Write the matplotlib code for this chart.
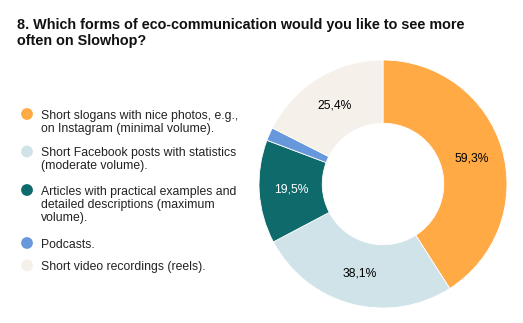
import matplotlib
matplotlib.use('Agg')
import matplotlib.pyplot as plt
import numpy as np

plt.rcParams['font.family'] = ['Liberation Sans', 'DejaVu Sans']

title_lines = ["8. Which forms of eco-communication would you like to see more",
               "often on Slowhop?"]
categories = [
    "Short slogans with nice photos, e.g.,\non Instagram (minimal volume).",
    "Short Facebook posts with statistics\n(moderate volume).",
    "Articles with practical examples and\ndetailed descriptions (maximum\nvolume).",
    "Podcasts.",
    "Short video recordings (reels).",
]
values = [59.3, 38.1, 19.5, 2.5, 25.4]
colors = ['#FFAA44', '#CFE3E8', '#0F6B6B', '#6898DC', '#F6F0EA']
label_colors = ['black', 'black', 'white', 'black', 'black']

W, H = 523, 323
fig = plt.figure(figsize=(W / 100, H / 100), dpi=100)

# overlay in pixel units for title and legend
bg = fig.add_axes([0, 0, 1, 1])
bg.set_xlim(0, W)
bg.set_ylim(H, 0)
bg.axis('off')

for i, line in enumerate(title_lines):
    bg.text(17, 29 + i * 16, line, fontsize=10.4, fontweight='bold',
            va='baseline', ha='left', color='#111111')

legend_y = [114, 151.5, 190, 243, 265.5]
for y, lab, col in zip(legend_y, categories, colors):
    bg.scatter([27], [y], s=72, color=col, edgecolors='none')
    for j, line in enumerate(lab.split('\n')):
        bg.text(41, y + 4.5 + j * 13.4, line, fontsize=8.8, va='baseline',
                ha='left', color='#222222')

# donut
cx, cy, r = 383, 184, 124
ax = fig.add_axes([(cx - r) / W, (H - cy - r) / H, 2 * r / W, 2 * r / H])
ax.pie(values, colors=colors, startangle=90, counterclock=False, radius=1,
       wedgeprops=dict(width=0.51, edgecolor='white', linewidth=0.6))
total = sum(values)
start = 90.0
for v, tc in zip(values, label_colors):
    ang = start - v / total * 360 / 2
    start -= v / total * 360
    if v / total < 0.05:
        continue
    x = 0.745 * np.cos(np.radians(ang))
    y = 0.745 * np.sin(np.radians(ang))
    ax.text(x, y, f"{v:.1f}%".replace('.', ','), ha='center', va='center',
            fontsize=8.7, color=tc)
ax.set_xlim(-1, 1)
ax.set_ylim(-1, 1)
ax.set_aspect('auto')
ax.axis('off')

fig.savefig('out.png', dpi=100, facecolor='white')
